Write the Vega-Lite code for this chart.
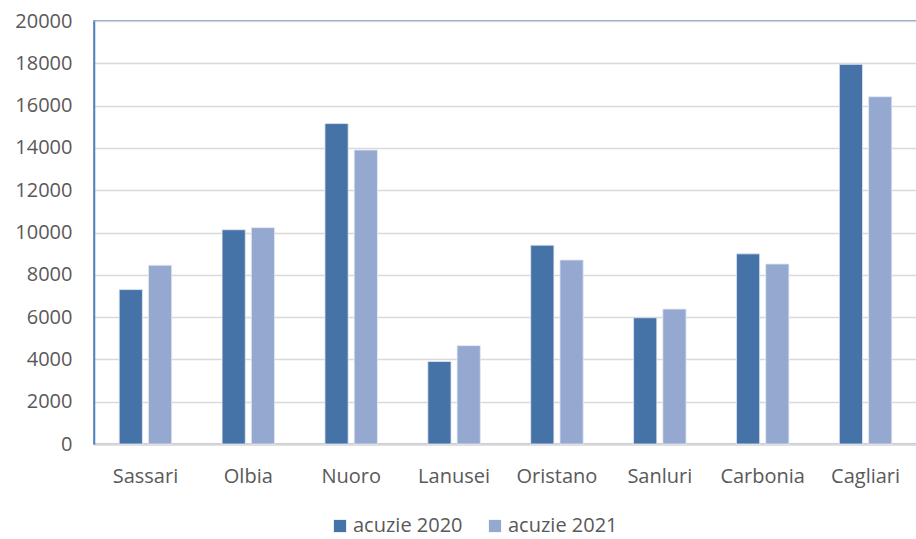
{
  "$schema": "https://vega.github.io/schema/vega-lite/v6.json",
  "autosize": "none",
  "width": 823,
  "height": 423,
  "padding": {"left": 94, "top": 21, "right": 0, "bottom": 95},
  "background": "white",
  "config": {
    "view": {"stroke": "#4F81BD", "strokeWidth": 1.5},
    "font": "Open Sans"
  },
  "data": {
    "values": [
      {"asl": "Sassari", "serie": "acuzie 2020", "valore": 7300},
      {"asl": "Sassari", "serie": "acuzie 2021", "valore": 8450},
      {"asl": "Olbia", "serie": "acuzie 2020", "valore": 10130},
      {"asl": "Olbia", "serie": "acuzie 2021", "valore": 10230},
      {"asl": "Nuoro", "serie": "acuzie 2020", "valore": 15150},
      {"asl": "Nuoro", "serie": "acuzie 2021", "valore": 13900},
      {"asl": "Lanusei", "serie": "acuzie 2020", "valore": 3900},
      {"asl": "Lanusei", "serie": "acuzie 2021", "valore": 4650},
      {"asl": "Oristano", "serie": "acuzie 2020", "valore": 9400},
      {"asl": "Oristano", "serie": "acuzie 2021", "valore": 8700},
      {"asl": "Sanluri", "serie": "acuzie 2020", "valore": 5970},
      {"asl": "Sanluri", "serie": "acuzie 2021", "valore": 6380},
      {"asl": "Carbonia", "serie": "acuzie 2020", "valore": 8990},
      {"asl": "Carbonia", "serie": "acuzie 2021", "valore": 8510},
      {"asl": "Cagliari", "serie": "acuzie 2020", "valore": 17950},
      {"asl": "Cagliari", "serie": "acuzie 2021", "valore": 16420}
    ]
  },
  "mark": {"type": "bar", "stroke": "#E3E9F3", "strokeWidth": 0.8},
  "encoding": {
    "x": {
      "field": "asl",
      "type": "nominal",
      "sort": null,
      "scale": {"paddingInner": 0.49, "paddingOuter": 0.245},
      "axis": {
        "title": null,
        "labelAngle": 0,
        "labelFontSize": 20,
        "labelColor": "#595959",
        "labelPadding": 22,
        "ticks": false,
        "domainColor": "#D9D9D9",
        "domainWidth": 2.5,
        "grid": false
      }
    },
    "xOffset": {
      "field": "serie",
      "type": "nominal",
      "scale": {"paddingInner": 0.207, "paddingOuter": 0}
    },
    "y": {
      "field": "valore",
      "type": "quantitative",
      "scale": {"domain": [0, 20000], "nice": false},
      "axis": {
        "title": null,
        "values": [0, 2000, 4000, 6000, 8000, 10000, 12000, 14000, 16000, 18000, 20000],
        "format": "d",
        "labelFontSize": 20,
        "labelColor": "#595959",
        "labelPadding": 22,
        "ticks": false,
        "domainColor": "#4F81BD",
        "domainWidth": 1.5,
        "gridColor": "#D9D9D9",
        "gridWidth": 1.5
      }
    },
    "color": {
      "field": "serie",
      "type": "nominal",
      "scale": {"domain": ["acuzie 2020", "acuzie 2021"], "range": ["#4572A7", "#95A9D0"]},
      "legend": {
        "title": null,
        "orient": "none",
        "legendX": 236,
        "legendY": 495,
        "direction": "horizontal",
        "symbolType": "square",
        "symbolSize": 150,
        "symbolStrokeWidth": 0,
        "labelFontSize": 20,
        "labelOffset": 3,
        "labelColor": "#595959",
        "columnPadding": 22,
        "padding": 0
      }
    }
  }
}
